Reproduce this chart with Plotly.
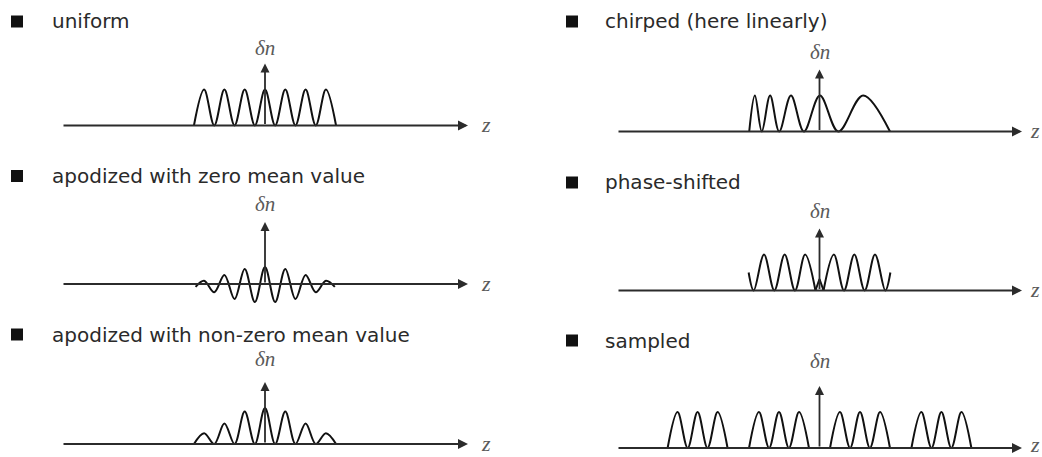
import plotly.graph_objects as go

W, H = 1042, 457

# ---------------- data (z in grating periods, centred on the δn axis; δn normalised) ----------------
titles = ["uniform", "apodized with zero mean value", "apodized with non-zero mean value",
          "chirped (here linearly)", "phase-shifted", "sampled"]

uniform_z = [-3.5, -3.0, -2.5, -2.0, -1.5, -1.0, -0.5, 0.0, 0.5, 1.0, 1.5, 2.0, 2.5, 3.0, 3.5]
uniform_dn = [0, 1, 0, 1, 0, 1, 0, 1, 0, 1, 0, 1, 0, 1, 0]

zero_mean_z = [-3.42, -3.0, -2.5, -2.0, -1.5, -1.0, -0.5, 0.0, 0.5, 1.0, 1.5, 2.0, 2.5, 3.0, 3.44]
zero_mean_dn = [-0.08, 0.09, -0.23, 0.25, -0.42, 0.42, -0.5, 0.47, -0.5, 0.42, -0.42, 0.25, -0.23, 0.09, -0.08]

nonzero_mean_z = [-3.5, -3.0, -2.5, -2.0, -1.5, -1.0, -0.5, 0.0, 0.5, 1.0, 1.5, 2.0, 2.5, 3.0, 3.5]
nonzero_mean_dn = [0, 0.30, 0, 0.57, 0, 0.90, 0, 1.0, 0, 0.90, 0, 0.57, 0, 0.30, 0]

chirped_z = [-3.47, -3.19, -2.85, -2.44, -1.99, -1.41, -0.77, 0.02, 0.93, 2.15, 3.48]
chirped_dn = [0, 1, 0, 1, 0, 1, 0, 1, 0, 1, 0]

phase_left_z = [-3.5, -3.25, -2.74, -2.23, -1.72, -1.21, -0.71, -0.2]
phase_left_dn = [0.5, 0, 1, 0, 1, 0, 1, 0]
phase_step_z = [-0.2, 0.0, 0.2]
phase_step_dn = [0, 0.32, 0]
phase_right_z = [0.2, 0.71, 1.21, 1.72, 2.23, 2.74, 3.25, 3.5]
phase_right_dn = [0, 1, 0, 1, 0, 1, 0, 0.5]

sampled_z = [-7.5, -7.01, -6.51, -6.02, -5.53, -5.03, -4.54, None,
             -3.48, -2.99, -2.49, -2.0, -1.51, -1.01, -0.52, None,
             0.52, 1.01, 1.51, 2.0, 2.49, 2.99, 3.48, None,
             4.54, 5.03, 5.53, 6.02, 6.51, 7.01, 7.5]
sampled_dn = [0, 1, 0, 1, 0, 1, 0, None,
              0, 1, 0, 1, 0, 1, 0, None,
              0, 1, 0, 1, 0, 1, 0, None,
              0, 1, 0, 1, 0, 1, 0]

# ---------------- layout constants (pixels) ----------------
Z_RANGE = (-10, 10)
DN_TOP = 2.0
DN_ARROW = 1.72
PX_PER_DN = 36.0
Z_LABEL_GAP = 18

cols = {0: dict(x0=62, x1=468, bullet=17, text=50),
        1: dict(x0=617, x1=1022, bullet=572, text=603)}

panels = [
    dict(col=0, axis=125.5, title=21.5, ylo=-0.25, label=48,
         curves=[(uniform_z, uniform_dn, "spline")]),
    dict(col=0, axis=284.0, title=176.0, ylo=-0.6, label=204,
         curves=[(zero_mean_z, zero_mean_dn, "spline")]),
    dict(col=0, axis=444.0, title=334.5, ylo=-0.25, label=359,
         curves=[(nonzero_mean_z, nonzero_mean_dn, "spline")]),
    dict(col=1, axis=131.5, title=21.5, ylo=-0.25, label=52,
         curves=[(chirped_z, chirped_dn, "spline")]),
    dict(col=1, axis=290.5, title=182.5, ylo=-0.25, label=211,
         curves=[(phase_left_z, phase_left_dn, "spline"),
                 (phase_step_z, phase_step_dn, "linear"),
                 (phase_right_z, phase_right_dn, "spline")]),
    dict(col=1, axis=448.0, title=340.5, ylo=-0.2, label=361,
         curves=[(sampled_z, sampled_dn, "spline")]),
]

AXIS_COLOR = "#2b2b2b"
CURVE_COLOR = "#111111"
TEXT_COLOR = "#2a2a2a"
MATH_COLOR = "#5a5a5a"

fig = go.Figure()
layout_axes = {}
annotations = []
shapes = []

for i, p in enumerate(panels):
    n = i + 1
    xa = "x" if n == 1 else f"x{n}"
    ya = "y" if n == 1 else f"y{n}"
    c = cols[p["col"]]
    bottom = p["axis"] - p["ylo"] * PX_PER_DN
    top = p["axis"] - DN_TOP * PX_PER_DN
    layout_axes["xaxis" if n == 1 else f"xaxis{n}"] = dict(
        domain=[c["x0"] / W, c["x1"] / W], range=list(Z_RANGE), anchor=ya,
        showgrid=False, zeroline=False, showticklabels=False, showline=False, ticks="")
    layout_axes["yaxis" if n == 1 else f"yaxis{n}"] = dict(
        domain=[1 - bottom / H, 1 - top / H], range=[p["ylo"], DN_TOP], anchor=xa,
        showgrid=False, zeroline=False, showticklabels=False, showline=False, ticks="")

    for z, dn, shape in p["curves"]:
        fig.add_trace(go.Scatter(
            x=z, y=dn, xaxis=xa, yaxis=ya, mode="lines",
            line=dict(color=CURVE_COLOR, width=2, shape=shape, smoothing=1),
            connectgaps=False, showlegend=False, hoverinfo="skip"))

    # z axis arrow
    annotations.append(dict(x=Z_RANGE[1], y=0, ax=Z_RANGE[0], ay=0, xref=xa, yref=ya,
                            axref=xa, ayref=ya, text="", showarrow=True, arrowhead=2,
                            arrowsize=1.0, arrowwidth=2, arrowcolor=AXIS_COLOR,
                            standoff=0, startstandoff=0))
    # δn axis arrow
    annotations.append(dict(x=0, y=DN_ARROW, ax=0, ay=0, xref=xa, yref=ya,
                            axref=xa, ayref=ya, text="", showarrow=True, arrowhead=2,
                            arrowsize=1.0, arrowwidth=1.8, arrowcolor=AXIS_COLOR,
                            standoff=0, startstandoff=0))
    zero_px = c["x0"] + (0 - Z_RANGE[0]) / (Z_RANGE[1] - Z_RANGE[0]) * (c["x1"] - c["x0"])
    # z label (kept inside the page)
    z_px = min(c["x1"] + Z_LABEL_GAP, W - 7)
    z_py = min(p["axis"] - 1, H - 13)
    annotations.append(dict(x=z_px / W, y=1 - z_py / H,
                            xref="paper", yref="paper", text="<i>z</i>",
                            showarrow=False, xanchor="center", yanchor="middle",
                            font=dict(family="Liberation Serif", size=22, color=MATH_COLOR)))
    # δn label
    annotations.append(dict(x=zero_px / W, y=1 - p["label"] / H, xref="paper", yref="paper",
                            text="<i>δn</i>", showarrow=False, xanchor="center", yanchor="middle",
                            font=dict(family="Liberation Serif", size=21, color=MATH_COLOR)))
    # title
    annotations.append(dict(x=c["text"] / W, y=1 - p["title"] / H, xref="paper", yref="paper",
                            text=titles[i], showarrow=False, xanchor="left", yanchor="middle",
                            font=dict(family="DejaVu Sans", size=20, color=TEXT_COLOR)))
    # bullet
    bs = 6
    shapes.append(dict(type="rect", xref="paper", yref="paper",
                       x0=(c["bullet"] - bs) / W, x1=(c["bullet"] + bs) / W,
                       y0=1 - (p["title"] + bs) / H, y1=1 - (p["title"] - bs) / H,
                       fillcolor="#111111", line=dict(width=0)))

fig.update_layout(
    width=W, height=H, margin=dict(l=0, r=0, t=0, b=0),
    paper_bgcolor="white", plot_bgcolor="rgba(0,0,0,0)",
    annotations=annotations, shapes=shapes, **layout_axes)

fig.write_html("out.html", config={"displayModeBar": False},
               post_script="document.body.style.margin='0';document.body.style.overflow='hidden';")
